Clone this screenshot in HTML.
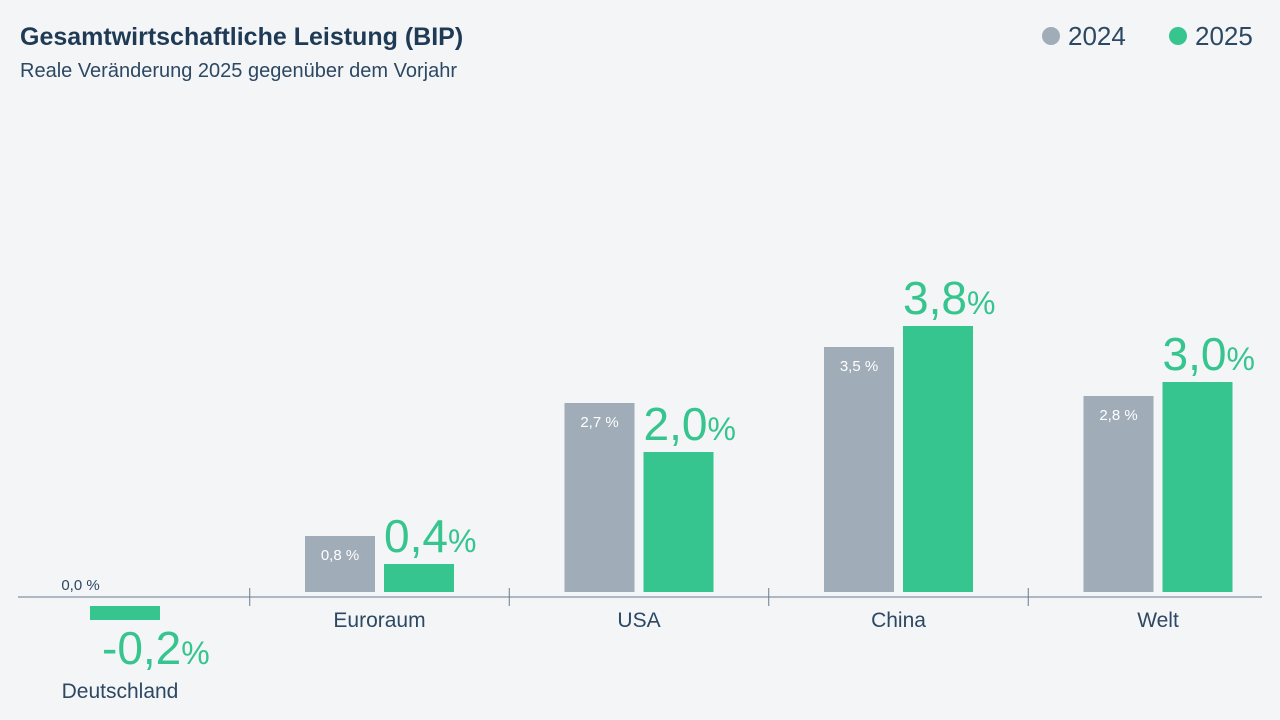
<!DOCTYPE html>
<html><head><meta charset="utf-8"><style>
body{margin:0;background:#f3f5f7;font-family:"Liberation Sans","DejaVu Sans",sans-serif;}
#wrap{position:relative;width:1280px;height:720px;overflow:hidden;}
</style></head><body>
<div id="wrap">
<svg id="chart" width="1280" height="720">
<text x="20" y="45" font-size="25" font-weight="bold" fill="#1e3a55">Gesamtwirtschaftliche Leistung (BIP)</text>
<text x="20" y="77" font-size="20" fill="#2d4863">Reale Veränderung 2025 gegenüber dem Vorjahr</text>
<g>
<circle cx="1051" cy="36" r="9" fill="#a0acb8"/>
<text x="1068" y="45" font-size="26" fill="#2d4863">2024</text>
<circle cx="1178" cy="36" r="9" fill="#36c48f"/>
<text x="1195" y="45" font-size="26" fill="#2d4863">2025</text>
</g>
<line x1="18" x2="1262" y1="597" y2="597" stroke="#6a7c8e" stroke-width="1"/>
<g id="marks"></g>
</svg>
</div>
<script>
const categories=["Deutschland","Euroraum","USA","China","Welt"];
const values2024=[0.0,0.8,2.7,3.5,2.8];
const values2025=[-0.2,0.4,2.0,3.8,3.0];
const labels2024=["0,0 %","0,8 %","2,7 %","3,5 %","2,8 %"];
const labels2025=["-0,2","0,4","2,0","3,8","3,0"];
const NS="http://www.w3.org/2000/svg";
const g=document.getElementById('marks');
const base=597, gap=5, k=70, x0=120, step=259.5, bw=70;
function cx(i){return x0+i*step;}
function mk(tag,attrs){const e=document.createElementNS(NS,tag);for(const a in attrs)e.setAttribute(a,attrs[a]);g.appendChild(e);return e;}
function yTop(v){return v>=0?base-gap-v*k:base+9;}
function hgt(v){return Math.abs(v)*k;}
for(let i=0;i<categories.length;i++){
  const c=cx(i);
  if(i>0){const t=mk('line',{x1:c-step/2,x2:c-step/2,y1:588,y2:606,stroke:'#6a7c8e'});
    
    }
  const gx=c-bw-4.5, nx=c+4.5;
  const v1=values2024[i], v2=values2025[i];
  const b1=mk('rect',{x:gx,y:yTop(v1),width:bw,height:hgt(v1),fill:'#a0acb8'});
  
  
  const l1=mk('text',{x:gx+bw/2,y:v1>0?yTop(v1)+24:base-7,'font-size':15,'text-anchor':'middle',fill:v1>0?'#ffffff':'#2d4863'});
  l1.textContent=labels2024[i];
  
  
  const b2=mk('rect',{x:v2<0?c-bw/2-c+125+35+c-c:nx,y:yTop(v2),width:bw,height:hgt(v2),fill:'#36c48f'});
  if(v2<0)b2.setAttribute('x',c-bw/2+40-35);
  
  
  const ly=v2>=0?yTop(v2)-12:yTop(v2)+hgt(v2)+44;
  const lx=v2>=0?nx:c-18;
  const l2=mk('text',{x:lx,y:ly,'font-size':46,fill:'#36c48f'});
  l2.textContent=labels2025[i];
  const sp=document.createElementNS(NS,'tspan');sp.setAttribute('font-size','32');sp.textContent='%';l2.appendChild(sp);
  
  
  const cl=mk('text',{x:c,y:v2<0?698:627,'font-size':21,'text-anchor':'middle',fill:'#2d4863'});
  cl.textContent=categories[i];
  
  
}
</script>
</body></html>
